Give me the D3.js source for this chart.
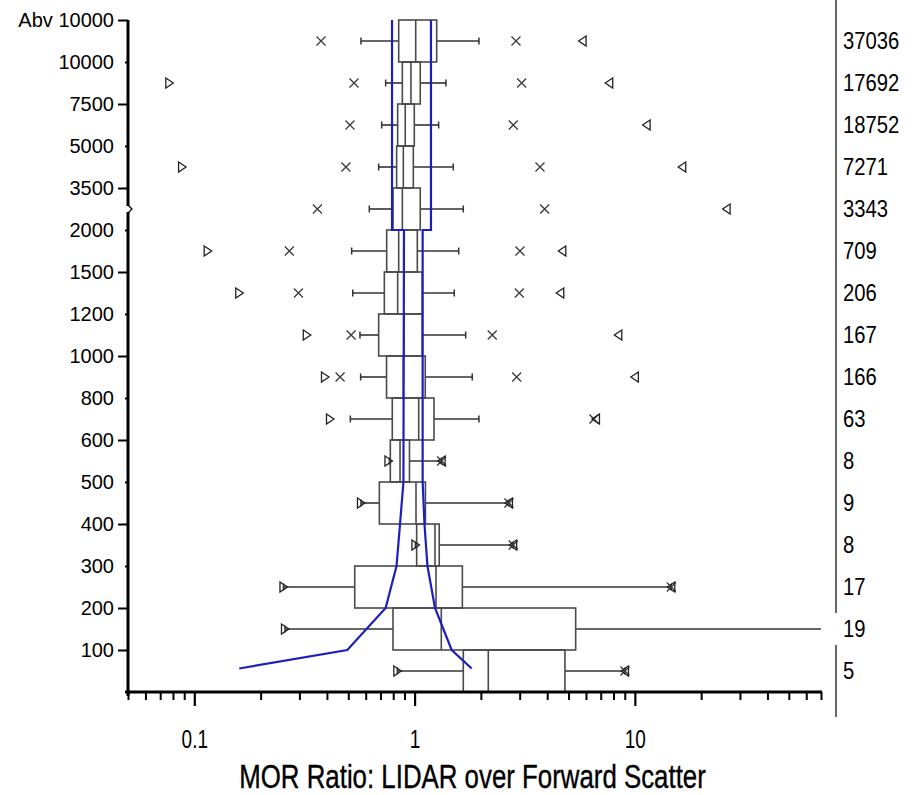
<!DOCTYPE html>
<html><head><meta charset="utf-8">
<script src="https://cdn.jsdelivr.net/npm/d3@7"></script>
<style>
body{margin:0;background:#fff}
svg{display:block}
text{font-family:"Liberation Sans",Arial,sans-serif;fill:#000}
</style>
</head><body>
<svg id="chart" width="920" height="795"></svg>
<script>
// ---- data ----
const levelLabels = ["Abv 10000","10000","7500","5000","3500","2000","1500","1200","1000","800","600","500","400","300","200","100"];
const levelValues = [15000,10000,7500,5000,3500,2000,1500,1200,1000,800,600,500,400,300,200,100];
const levelMajor  = [true,false,true,false,true,false,true,false,true,false,true,false,true,false,true,true];

const binHigh = [15000,10000,7500,5000,3500,2000,1500,1200,1000,800,600,500,400,300,200,100];
const binLow  = [10000,7500,5000,3500,2000,1500,1200,1000,800,600,500,400,300,200,100,0];
const counts  = [37036,17692,18752,7271,3343,709,206,167,166,63,8,9,8,17,19,5];

const minVal  = [null,0.077,null,0.088,null,0.115,0.160,0.324,0.392,0.413,0.761,0.571,1.009,0.254,0.258,0.835];
const p01     = [0.376,0.531,0.509,0.488,0.362,0.270,0.297,0.515,0.459,null,null,null,null,null,null,null];
const whiskLo = [0.571,0.739,0.709,0.687,0.623,0.518,0.524,0.565,0.569,0.511,0.769,0.571,1.009,0.254,0.258,0.835];
const q1      = [0.847,0.880,0.838,0.829,0.798,0.747,0.729,0.687,0.746,0.792,0.776,0.692,1.022,0.535,0.798,1.664];
const median  = [1.012,0.963,0.907,0.889,0.880,0.847,0.838,0.895,0.889,1.044,0.859,1.015,1.238,1.251,1.322,2.161];
const q3      = [1.260,1.061,0.997,0.987,1.061,1.029,1.084,1.084,1.118,1.225,0.948,1.120,1.294,1.648,5.387,4.816];
const whiskHi = [1.960,1.388,1.286,1.498,1.664,1.586,1.514,1.706,1.827,1.960,1.327,2.682,2.803,14.64,90,9.02];
const p99     = [2.886,3.063,2.806,3.709,3.895,3.009,2.988,2.252,2.907,6.52,1.327,2.682,2.803,14.64,null,9.02];
const maxVal  = [5.79,7.65,11.31,16.41,26.1,4.683,4.585,8.41,10.0,6.66,1.327,2.682,2.803,14.64,90,9.02];

const blueAlt   = [15000,2000,2000,500,400,300,200,100,56];
const blueLeft  = [0.79,0.79,0.895,0.89,0.859,0.828,0.739,0.495,0.16];
const blueRight = [1.187,1.187,1.088,1.088,1.109,1.144,1.238,1.474,1.816];

const xMajorTicks = [0.1,1,10];
const xMajorLabels = ["0.1","1","10"];
const xMinorTicks = [0.05,0.06,0.07,0.08,0.09,0.2,0.3,0.4,0.5,0.6,0.7,0.8,0.9,2,3,4,5,6,7,8,9,20,30,40,50,60,70];
const xTitle = "MOR Ratio: LIDAR over Forward Scatter";

// ---- layout ----
const svg = d3.select("#chart");
const plotLeft = 128, plotRight = 821, plotTop = 20, plotBottom = 692;
const x = d3.scaleLog().domain([0.05,70]).range([plotLeft,plotRight]).clamp(true);
const yDomain = [0].concat(levelValues.slice().reverse());
const step = (plotBottom-plotTop)/(yDomain.length-1);
const y = d3.scaleLinear().domain(yDomain).range(yDomain.map((d,i)=>plotBottom - i*step));

const inDom = v => v!=null && v>=0.05 && v<=70;
const rows = counts.map((c,i)=>({i,c,hi:binHigh[i],lo:binLow[i]}));

const boxColor = "#4a4a4a", whiskColor = "#333", markColor = "#3a3a3a";

const g = svg.append("g");
rows.forEach(r=>{
  const i=r.i, y0=y(r.hi), y1=y(r.lo), yc=(y0+y1)/2;
  const gr = g.append("g");
  gr.append("line").attr("x1",x(whiskLo[i])).attr("x2",x(q1[i])).attr("y1",yc).attr("y2",yc)
    .attr("stroke",whiskColor).attr("stroke-width",1.6);
  gr.append("line").attr("x1",x(q3[i])).attr("x2",x(whiskHi[i])).attr("y1",yc).attr("y2",yc)
    .attr("stroke",whiskColor).attr("stroke-width",1.6);
  [whiskLo[i],whiskHi[i]].forEach(v=>{
    if(inDom(v)) gr.append("line").attr("x1",x(v)).attr("x2",x(v)).attr("y1",yc-3.5).attr("y2",yc+3.5)
      .attr("stroke",whiskColor).attr("stroke-width",1.5);
  });
  gr.append("rect").attr("x",x(q1[i])).attr("width",x(q3[i])-x(q1[i]))
    .attr("y",y0).attr("height",y1-y0).attr("fill","none").attr("stroke",boxColor).attr("stroke-width",1.6);
  gr.append("line").attr("x1",x(median[i])).attr("x2",x(median[i])).attr("y1",y0).attr("y2",y1)
    .attr("stroke",boxColor).attr("stroke-width",1.6);
  [p01[i],p99[i]].forEach(v=>{
    if(!inDom(v)) return;
    const cx=x(v), s=4.5;
    gr.append("path").attr("d",`M${cx-s},${yc-s}L${cx+s},${yc+s}M${cx-s},${yc+s}L${cx+s},${yc-s}`)
      .attr("stroke",markColor).attr("stroke-width",1.3).attr("fill","none");
  });
  if(inDom(minVal[i])){
    const cx=x(minVal[i]);
    gr.append("path").attr("d",`M${cx-3.5},${yc-5}L${cx+4},${yc}L${cx-3.5},${yc+5}Z`)
      .attr("stroke","#222").attr("stroke-width",1.3).attr("fill","none");
  }
  if(inDom(maxVal[i])){
    const cx=x(maxVal[i]);
    gr.append("path").attr("d",`M${cx+3.5},${yc-5}L${cx-4},${yc}L${cx+3.5},${yc+5}Z`)
      .attr("stroke","#222").attr("stroke-width",1.3).attr("fill","none");
  }
});

// blue lines
const line = d3.line().x(d=>x(d.v)).y(d=>y(d.a));
[blueLeft,blueRight].forEach(arr=>{
  g.append("path").datum(arr.map((v,k)=>({v,a:blueAlt[k]})))
    .attr("d",line).attr("fill","none").attr("stroke","#1e1ebf").attr("stroke-width",2.2);
});

// x axis
const xAxisG = svg.append("g").attr("transform",`translate(0,${plotBottom})`);
xAxisG.append("g").call(d3.axisBottom(x).tickValues(xMinorTicks).tickSize(8).tickFormat(""))
  .call(a=>a.select(".domain").remove())
  .call(a=>a.selectAll("line").attr("stroke","#000").attr("stroke-width",2));
xAxisG.append("g").call(d3.axisBottom(x).tickValues(xMajorTicks).tickSize(14).tickPadding(24)
    .tickFormat((d,k)=>xMajorLabels[k]))
  .call(a=>a.select(".domain").remove())
  .call(a=>a.selectAll("line").attr("stroke","#000").attr("stroke-width",2.2))
  .call(a=>a.selectAll("text").attr("font-size",25).attr("font-family",null)
    .attr("transform","scale(0.76,1)"));
xAxisG.append("line").attr("x1",plotLeft-3).attr("x2",plotRight+1).attr("y1",0).attr("y2",0)
  .attr("stroke","#000").attr("stroke-width",3);

// y axis
const yAxisG = svg.append("g").attr("transform",`translate(${plotLeft},0)`);
const majVals = levelValues.filter((d,k)=>levelMajor[k]);
const minVals = levelValues.filter((d,k)=>!levelMajor[k]);
const lab = d => levelLabels[levelValues.indexOf(d)];
yAxisG.append("g").call(d3.axisLeft(y).tickValues(majVals).tickSize(10).tickPadding(4).tickFormat(lab))
  .call(a=>a.select(".domain").remove())
  .call(a=>a.selectAll("line").attr("stroke","#000").attr("stroke-width",2))
  .call(a=>a.selectAll("text").attr("font-size",20).attr("font-family",null));
yAxisG.append("g").call(d3.axisLeft(y).tickValues(minVals).tickSize(3).tickPadding(11).tickFormat(lab))
  .call(a=>a.select(".domain").remove())
  .call(a=>a.selectAll("line").attr("stroke","#000").attr("stroke-width",2))
  .call(a=>a.selectAll("text").attr("font-size",20).attr("font-family",null));
const yBreak = (y(3500)+y(2000))/2;
yAxisG.append("line").attr("x1",0).attr("x2",0).attr("y1",plotTop).attr("y2",yBreak-3)
  .attr("stroke","#000").attr("stroke-width",3);
yAxisG.append("line").attr("x1",0).attr("x2",0).attr("y1",yBreak+3).attr("y2",plotBottom+4)
  .attr("stroke","#000").attr("stroke-width",3);
yAxisG.append("path").attr("d",`M0,${yBreak-4}L4,${yBreak}L0,${yBreak+4}`)
  .attr("fill","none").attr("stroke","#000").attr("stroke-width",1.2);

// right count column
const colX = 836;
svg.append("line").attr("x1",colX).attr("x2",colX).attr("y1",0).attr("y2",y(200)+5)
  .attr("stroke","#000").attr("stroke-width",1.2);
svg.append("line").attr("x1",colX).attr("x2",colX).attr("y1",y(100)-5).attr("y2",plotBottom+25)
  .attr("stroke","#000").attr("stroke-width",1.2);
svg.append("g").selectAll("text").data(rows).join("text")
  .attr("transform",r=>`translate(${colX+7},${(y(r.hi)+y(r.lo))/2+2}) scale(0.88,1)`)
  .attr("dominant-baseline","middle").attr("font-size",23).text(r=>r.c);

// x title
svg.append("text").attr("transform",`translate(${(plotLeft+plotRight)/2-2},788) scale(0.76,1)`)
  .attr("text-anchor","middle").attr("font-size",34)
  .attr("stroke","#000").attr("stroke-width",0.4).text(xTitle);
</script>
</body></html>
